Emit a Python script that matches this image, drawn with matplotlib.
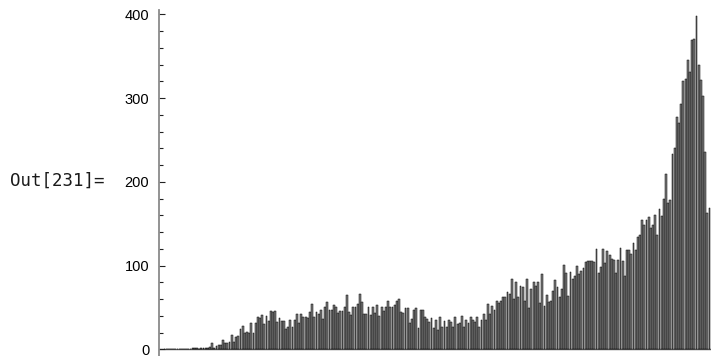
import numpy as np
import matplotlib
matplotlib.use("Agg")
import matplotlib.pyplot as plt

# bar heights, read left to right off the picture
counts_start = [0, 0, 0, 0, 0, 0, 0, 0, 0, 0, 0, 0, 0, 1, 2, 1, 0, 1, 2, 1, 2, 3, 7, 2]
counts_rise = [4, 5, 5, 11, 7, 7, 9, 17, 9, 15, 16, 24, 28, 19, 21, 20, 31, 20, 31, 39,
               37, 41, 30, 40, 34, 46, 44, 46, 32, 37, 34, 34, 24, 27, 35]
counts_hump = [27, 35, 42, 31, 42, 39, 39, 37, 44, 54, 39, 45, 42, 47, 36, 51, 56, 47, 47, 53,
               51, 43, 46, 46, 51, 65, 45, 41, 51, 51, 54, 66, 56, 42, 42, 50, 41, 50, 43, 53,
               40, 50, 46, 51, 58, 51, 51, 53, 58, 60, 45, 43, 49, 49, 31, 36, 47, 49, 26, 47,
               47, 39, 36, 32, 37]
counts_dip = [26, 35, 23, 39, 27, 34, 27, 35, 33, 27, 38, 30, 31, 40, 27, 35, 31, 38, 35, 33,
              39, 27, 35, 42, 35, 54, 42, 52, 47, 58, 55, 58, 62, 62, 68, 66, 84, 60, 80, 62,
              76, 74, 58, 84, 49, 72, 80, 76, 80, 55, 90, 52, 65, 56, 58, 70, 83, 74, 62]
counts_peak = [72, 101, 91, 64, 92, 84, 88, 99, 90, 94, 97, 104, 105, 106, 106, 104, 120, 91, 98, 120,
               103, 117, 112, 108, 107, 91, 107, 121, 106, 88, 119, 119, 114, 127, 119, 134, 137, 154, 149, 154,
               158, 145, 148, 160, 136, 168, 159, 179, 209, 175, 178, 233, 240, 277, 270, 293, 320, 323, 346, 331,
               369, 370, 398, 339, 321, 302, 236, 163, 169]

counts = counts_start + counts_rise + counts_hump + counts_dip + counts_peak
n = len(counts)
x = np.arange(n)

fig = plt.figure(figsize=(7.11, 3.56), dpi=100)
ax = fig.add_axes([159 / 711, 0, 1 - 159 / 711, 346 / 356])

ax.bar(x, counts, width=0.85, color="#7c7c7c", edgecolor="black", linewidth=0.35)

ax.set_xlim(-2.5, n - 1 + 0.7)
ax.set_ylim(-8.0, 405.1)

for s in ["top", "right", "bottom"]:
    ax.spines[s].set_visible(False)
ax.spines["left"].set_color("#8a8a8a")
ax.spines["left"].set_linewidth(1.3)
ax.axhline(0, color="#555555", linewidth=1.0, zorder=0.5)

ax.set_xticks([])
ax.set_yticks([0, 100, 200, 300, 400])
ax.set_yticks(np.arange(0, 401, 20), minor=True)
ax.tick_params(axis="y", which="major", direction="in", length=4.5, width=0.8,
               color="#222222", pad=7, labelsize=10.5)
ax.tick_params(axis="y", which="minor", direction="in", length=2.7, width=0.8,
               color="#222222")
for lab in ax.get_yticklabels():
    lab.set_family("Liberation Sans")

fig.text(10 / 711, 1 - 181 / 356, "Out[231]=", family="DejaVu Sans Mono",
         fontsize=12.5, va="center", ha="left", color="#1a1a1a")

fig.savefig("out.png", dpi=100)
